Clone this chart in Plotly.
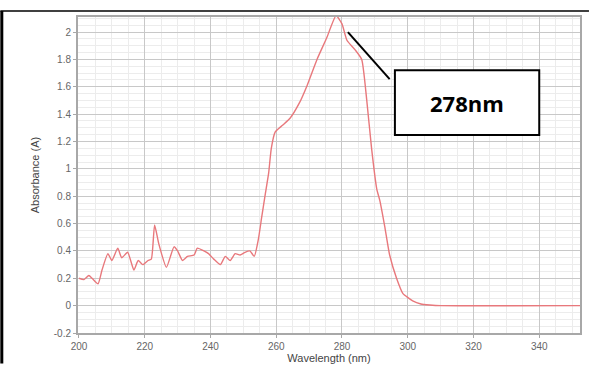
import plotly.graph_objects as go

# ---- data ----
wavelength = [200, 201.5, 203, 204, 205.8, 207, 208.8, 210, 211.8, 213, 214.8, 216.7, 218, 219.4,
              221, 222, 223, 224.3, 226.6, 228.9, 230, 231.5, 233, 235, 236, 238, 239.4, 241,
              243, 244.5, 246, 247.5, 249, 250.5, 252, 253.3, 254.6, 255.6, 256.7, 257.7, 258.5,
              259.7, 262, 264.2, 267, 269.4, 272.4, 275.4, 278.2, 280, 281.5, 284, 286, 287.5,
              289, 290.6, 291.5, 293, 294.5, 296.6, 298.5, 301.5, 304, 306.7, 310, 352.4]
absorbance = [0.20, 0.19, 0.22, 0.20, 0.16, 0.26, 0.38, 0.33, 0.42, 0.35, 0.39, 0.26, 0.33, 0.30,
              0.33, 0.34, 0.59, 0.45, 0.28, 0.43, 0.40, 0.33, 0.36, 0.37, 0.42, 0.40, 0.38, 0.34,
              0.30, 0.36, 0.33, 0.38, 0.37, 0.39, 0.40, 0.36, 0.49, 0.65, 0.82, 0.97, 1.15,
              1.27, 1.32, 1.37, 1.48, 1.61, 1.80, 1.96, 2.12, 2.06, 1.94, 1.87, 1.80, 1.51,
              1.15, 0.85, 0.77, 0.58, 0.37, 0.20, 0.09, 0.035, 0.012, 0.005, 0.0, 0.0]

x_ticks = [200, 220, 240, 260, 280, 300, 320, 340]
y_ticks = [-0.2, 0, 0.2, 0.4, 0.6, 0.8, 1, 1.2, 1.4, 1.6, 1.8, 2]
y_ticktext = ["-0.2", "0", "0.2", "0.4", "0.6", "0.8", "1", "1.2", "1.4", "1.6", "1.8", "2"]

peak_label = "278nm"
peak_x, peak_y = 281.8, 2.0
label_x0, label_x1, label_y0, label_y1 = 296.1, 340.0, 1.247, 1.72
leader_end = (294.5, 1.656)

W, H = 591, 370
ML, MR, MT, MB = 78, 9, 17, 31

fig = go.Figure()
fig.add_trace(go.Scatter(x=wavelength, y=absorbance, mode="lines",
                         line=dict(color="#e8787c", width=1.4, shape="spline", smoothing=0.5),
                         cliponaxis=True, showlegend=False, hoverinfo="skip"))

axis_common = dict(showline=True, linecolor="#a8a8a8", linewidth=2, mirror=True,
                   gridcolor="#c8c8c8", gridwidth=1, zeroline=False,
                   tickfont=dict(family="Liberation Sans", size=10, color="#666666"),
                   ticks="outside", ticklen=3, tickcolor="#a8a8a8")

fig.update_xaxes(range=[199.7, 352.4], tickvals=x_ticks, **axis_common,
                 minor=dict(dtick=5, gridcolor="#ececec", gridwidth=1, showgrid=True),
                 title=dict(text="Wavelength (nm)", standoff=1,
                            font=dict(family="Liberation Sans", size=11, color="#444444")))
fig.update_yaxes(range=[-0.2, 2.11], tickvals=y_ticks, ticktext=y_ticktext, **axis_common,
                 minor=dict(dtick=0.05, gridcolor="#ececec", gridwidth=1, showgrid=True),
                 title=dict(text="Absorbance (A)", standoff=12,
                            font=dict(family="Liberation Sans", size=11, color="#444444")))

# outer black frame (top line and left border)
pw = W - ML - MR
ph = H - MT - MB
def px2paper_x(px):
    return (px - ML) / pw
def px2paper_y(py):
    return (H - MB - py) / ph

fig.add_shape(type="line", xref="paper", yref="paper",
              x0=px2paper_x(0), x1=px2paper_x(W), y0=px2paper_y(11), y1=px2paper_y(11),
              line=dict(color="black", width=1.5), layer="above")
fig.add_shape(type="line", xref="paper", yref="paper",
              x0=px2paper_x(1.5), x1=px2paper_x(1.5), y0=px2paper_y(11), y1=px2paper_y(H),
              line=dict(color="black", width=3), layer="above")

# annotation: leader line and label box
fig.add_shape(type="line", x0=peak_x, y0=peak_y, x1=leader_end[0], y1=leader_end[1],
              line=dict(color="black", width=2), layer="above")
fig.add_shape(type="rect", x0=label_x0, x1=label_x1, y0=label_y0, y1=label_y1,
              line=dict(color="black", width=2), fillcolor="white", layer="above")
fig.add_annotation(x=(label_x0 + label_x1) / 2, y=(label_y0 + label_y1) / 2,
                   text="<b>" + peak_label + "</b>", showarrow=False,
                   font=dict(family="Open Sans", size=22, color="black"))

fig.update_layout(width=W, height=H, margin=dict(l=ML, r=MR, t=MT, b=MB),
                  paper_bgcolor="white", plot_bgcolor="white")

fig.write_html("out.html")
